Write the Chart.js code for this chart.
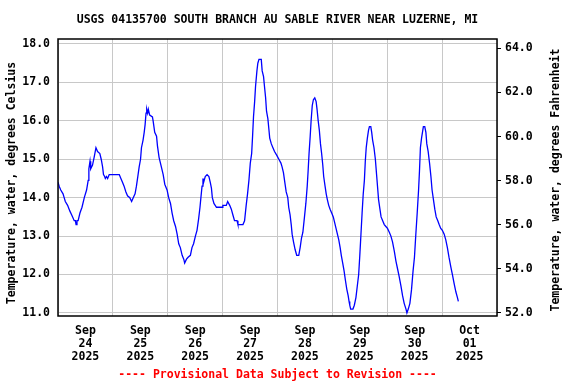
<!DOCTYPE html>
<html>
<head>
<meta charset="utf-8">
<script src="https://cdn.jsdelivr.net/npm/chart.js@4/dist/chart.umd.min.js"></script>
<style>
html,body{margin:0;padding:0;background:#fff;}
#wrap{width:576px;height:384px;position:relative;}
</style>
</head>
<body>
<div id="wrap"><canvas id="c" width="576" height="384"></canvas></div>
<script>
// Hours since 2025-09-24 00:00
const hours = [0,0.5,1.2,2.2,2.7,3.2,4.2,5.2,6.0,7.1,7.6,7.9,8.3,8.8,9.6,10.5,11.5,12.5,13.2,13.5,14.0,14.3,15.1,15.8,16.6,17.3,18.3,18.9,19.5,19.9,20.4,20.7,21.2,21.7,22.4,26.8,27.5,28.2,28.9,29.7,30.4,31.4,32.2,32.9,33.7,34.3,34.9,35.5,36.1,36.5,37.2,37.7,38.1,38.5,38.8,39.2,39.5,40.1,41.3,41.6,42.3,43.1,43.5,44.2,45.2,46.0,46.7,47.7,48.4,49.2,49.9,50.6,51.4,52.1,52.8,53.5,54.3,55.0,55.4,56.2,56.9,57.9,58.6,59.3,60.1,60.8,61.5,62.1,62.5,63.0,63.4,63.7,64.4,65.2,66.0,66.6,67.1,67.5,68.2,69.3,71.9,72.1,73.6,74.2,75.1,75.8,76.5,77.2,78.3,78.7,80.9,81.6,82.3,82.9,83.5,84.1,84.7,85.1,85.5,86.0,86.4,87.0,87.4,87.9,88.9,89.3,89.9,90.3,90.8,91.2,91.8,92.2,92.6,93.3,94.0,94.7,95.7,96.6,97.5,98.0,98.6,99.2,99.8,100.5,100.9,101.5,102.0,102.4,103.0,103.7,104.4,105.3,105.9,106.5,107.1,107.8,108.4,109.0,109.4,109.8,110.3,110.7,111.2,111.7,112.3,112.9,113.3,113.8,114.3,114.8,115.3,115.8,116.2,116.8,117.3,117.8,118.4,119.0,119.7,120.4,121.0,121.6,122.2,122.8,123.4,123.9,124.5,125.1,125.7,126.3,126.9,127.3,127.6,128.0,129.0,129.6,130.3,130.9,131.5,132.0,132.5,133.0,133.5,134.0,134.4,134.8,135.3,135.8,136.2,136.8,137.2,137.6,138.2,138.8,139.4,139.8,140.2,140.8,141.3,142.0,142.7,143.4,144.1,144.9,145.6,146.3,147.1,147.8,148.5,149.2,150.0,150.7,151.4,152.2,152.6,153.2,153.9,154.6,155.3,155.9,156.5,157.1,157.7,158.1,158.5,159.0,159.4,159.8,160.4,160.9,161.3,161.9,162.5,163.1,163.6,164.2,164.8,165.4,166.1,166.7,167.4,168.1,168.9,169.6,170.3,171.0,171.8,172.5,173.3,174.0,174.7,175.1];
const tempC = [14.4,14.3,14.2,14.1,14.0,13.9,13.8,13.65,13.55,13.4,13.4,13.3,13.4,13.4,13.6,13.75,14.0,14.2,14.45,14.75,14.95,14.75,14.85,15.05,15.3,15.2,15.15,15.0,14.8,14.6,14.55,14.5,14.55,14.5,14.6,14.6,14.5,14.4,14.3,14.15,14.05,14.0,13.9,14.0,14.1,14.3,14.55,14.8,15.0,15.3,15.5,15.7,15.9,16.2,16.3,16.2,16.3,16.15,16.1,16.0,15.7,15.6,15.35,15.05,14.8,14.6,14.35,14.2,14.0,13.85,13.6,13.4,13.25,13.05,12.8,12.7,12.5,12.4,12.3,12.4,12.45,12.5,12.7,12.8,13.0,13.15,13.45,13.75,14.0,14.3,14.5,14.4,14.55,14.6,14.55,14.4,14.25,14.0,13.85,13.75,13.75,13.8,13.8,13.9,13.8,13.7,13.55,13.4,13.4,13.3,13.3,13.4,13.8,14.1,14.45,14.9,15.15,15.6,16.1,16.5,16.9,17.3,17.5,17.6,17.6,17.3,17.15,16.9,16.6,16.25,16.05,15.8,15.55,15.4,15.3,15.2,15.1,15.0,14.9,14.8,14.65,14.4,14.15,14.0,13.75,13.55,13.3,13.05,12.85,12.65,12.5,12.5,12.7,12.95,13.1,13.5,13.85,14.3,14.7,15.15,15.6,16.0,16.4,16.55,16.6,16.5,16.3,16.0,15.75,15.4,15.15,14.85,14.55,14.3,14.1,13.95,13.8,13.7,13.6,13.5,13.35,13.2,13.05,12.9,12.7,12.5,12.3,12.1,11.85,11.62,11.45,11.3,11.2,11.1,11.1,11.2,11.4,11.7,12.0,12.5,13.05,13.6,14.1,14.45,14.95,15.3,15.55,15.75,15.85,15.85,15.7,15.5,15.3,15.0,14.55,14.25,13.95,13.7,13.5,13.4,13.3,13.25,13.2,13.1,13.0,12.85,12.6,12.35,12.15,11.95,11.7,11.45,11.25,11.1,11.0,11.1,11.25,11.6,12.1,12.45,13.05,13.6,14.2,14.7,15.3,15.55,15.7,15.85,15.85,15.7,15.4,15.2,14.9,14.55,14.2,13.95,13.7,13.5,13.4,13.3,13.2,13.15,13.05,12.9,12.7,12.45,12.2,12.0,11.75,11.55,11.4,11.3];
const dayLabels = [["Sep","24","2025"],["Sep","25","2025"],["Sep","26","2025"],["Sep","27","2025"],["Sep","28","2025"],["Sep","29","2025"],["Sep","30","2025"],["Oct","01","2025"]];
const celsiusTicks = [11,12,13,14,15,16,17,18];
const fahrenheitTicks = [52,54,56,58,60,62,64];
const titleText = "USGS 04135700 SOUTH BRANCH AU SABLE RIVER NEAR LUZERNE, MI";
const leftTitle = "Temperature, water, degrees Celsius";
const rightTitle = "Temperature, water, degrees Fahrenheit";
const footText = "---- Provisional Data Subject to Revision ----";

const FONT = "'DejaVu Sans Mono', 'Liberation Mono', monospace";
const tickFont = {family: FONT, size: 11.5, weight: 'bold', lineHeight: 1.1};

const textPlugin = {
  id: 'texts',
  afterDraw(chart) {
    const ctx = chart.ctx, a = chart.chartArea;
    ctx.save();
    ctx.strokeStyle = '#000';
    ctx.lineWidth = 1.5;
    ctx.strokeRect(a.left, a.top, a.right - a.left, a.bottom - a.top);
    ctx.font = "bold 11.5px " + FONT;
    ctx.fillStyle = '#000';
    ctx.textAlign = 'center';
    ctx.textBaseline = 'middle';
    const cx = (a.left + a.right) / 2;
    ctx.fillText(titleText, cx, 20.5);
    ctx.fillStyle = '#ff0000';
    ctx.fillText(footText, cx, 375.5);
    ctx.fillStyle = '#000';
    ctx.save();
    ctx.translate(12, 183);
    ctx.rotate(-Math.PI / 2);
    ctx.fillText(leftTitle, 0, 0);
    ctx.restore();
    ctx.save();
    ctx.translate(556, 180);
    ctx.rotate(-Math.PI / 2);
    ctx.fillText(rightTitle, 0, 0);
    ctx.restore();
    ctx.restore();
  }
};

new Chart(document.getElementById('c'), {
  type: 'line',
  data: {
    datasets: [{
      data: hours.map((h, i) => ({x: h, y: tempC[i]})),
      borderColor: '#0000ff',
      borderWidth: 1.3,
      pointRadius: 0,
      tension: 0,
      fill: false,
      yAxisID: 'y'
    }]
  },
  options: {
    responsive: false,
    animation: false,
    events: [],
    layout: {padding: {top: 39, left: 0, right: 0, bottom: 0}},
    plugins: {legend: {display: false}, title: {display: false}, tooltip: {enabled: false}},
    scales: {
      x: {
        type: 'linear', position: 'bottom', min: 0, max: 192,
        afterBuildTicks: (s) => { const t = []; for (let v = 0; v <= 192; v += 12) t.push({value: v}); s.ticks = t; },
        afterFit: (s) => { s.height = 68; },
        border: {display: false},
        grid: {drawTicks: false, color: (c) => (c.tick && c.tick.value % 24 === 0) ? '#c8c8c8' : 'rgba(0,0,0,0)', lineWidth: 1},
        ticks: {
          autoSkip: false, maxRotation: 0, minRotation: 0, padding: 9, color: '#000', font: tickFont,
          callback: (v) => (v % 24 === 12) ? dayLabels[(v - 12) / 24] : ''
        }
      },
      y: {
        type: 'linear', position: 'left', min: 10.92, max: 18.13,
        afterBuildTicks: (s) => { s.ticks = celsiusTicks.map(v => ({value: v})); },
        afterFit: (s) => { s.width = 58; },
        border: {display: false},
        grid: {drawTicks: false, color: '#c8c8c8', lineWidth: 1},
        ticks: {padding: 8, color: '#000', font: tickFont, callback: (v) => Number(v).toFixed(1)}
      },
      y2: {
        type: 'linear', position: 'right', min: 51.85, max: 64.43,
        afterBuildTicks: (s) => { s.ticks = fahrenheitTicks.map(v => ({value: v})); },
        afterFit: (s) => { s.width = 79; },
        border: {display: false},
        grid: {drawOnChartArea: false, drawTicks: true, tickLength: 4, color: '#000', lineWidth: 1},
        ticks: {padding: 4, color: '#000', font: tickFont, callback: (v) => Number(v).toFixed(1)}
      }
    }
  },
  plugins: [textPlugin]
});
</script>
</body>
</html>
